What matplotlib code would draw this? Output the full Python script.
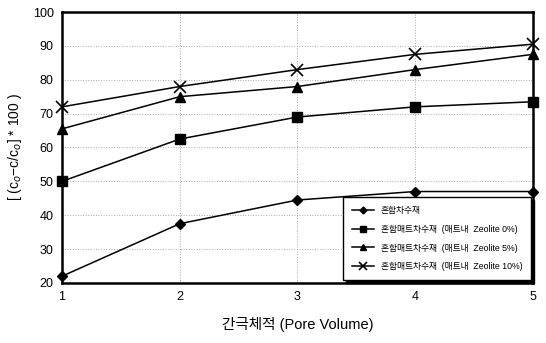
import numpy as np
import matplotlib.pyplot as plt

plt.rcParams['font.family'] = ['Liberation Sans', 'Noto Sans CJK KR', 'DejaVu Sans']
plt.rcParams['axes.unicode_minus'] = False

pore_volume = [1, 2, 3, 4, 5]
mix = [22, 37.5, 44.5, 47, 47]
mat0 = [50, 62.5, 69, 72, 73.5]
mat5 = [65.5, 75, 78, 83, 87.5]
mat10 = [72, 78, 83, 87.5, 90.5]
labels = ['혼합차수재',
          '혼합매트차수재  (매트내  Zeolite 0%)',
          '혼합매트차수재  (매트내  Zeolite 5%)',
          '혼합매트차수재  (매트내  Zeolite 10%)']

fig = plt.figure(figsize=(5.46, 3.43), dpi=100)
ax = fig.add_axes([0.1136, 0.175, 0.8625, 0.79])

ax.plot(pore_volume, mix, 'k-', marker='D', ms=5, lw=1.1, label=labels[0], clip_on=False, zorder=3)
ax.plot(pore_volume, mat0, 'k-', marker='s', ms=7, lw=1.1, label=labels[1], clip_on=False, zorder=3)
ax.plot(pore_volume, mat5, 'k-', marker='^', ms=7, lw=1.1, label=labels[2], clip_on=False, zorder=3)
ax.plot(pore_volume, mat10, 'k-', marker='x', ms=8, mew=1.2, lw=1.1, label=labels[3], clip_on=False, zorder=3)

ax.set_xlim(1, 5)
ax.set_ylim(20, 100)
ax.set_xticks(pore_volume)
ax.set_yticks(np.arange(20, 101, 10))
ax.grid(True, color='#aaaaaa', ls=':', lw=0.7)
ax.tick_params(length=0, labelsize=9, pad=6)
for s in ax.spines.values():
    s.set_linewidth(1.8)

ax.set_xlabel('간극체적 (Pore Volume)', fontsize=10.5, labelpad=10)
ax.set_ylabel(r'[ (c$_o$−c/c$_o$] * 100 )', fontsize=10, labelpad=6)

leg = ax.legend(loc='lower right', bbox_to_anchor=(1.005, -0.005), fontsize=6.3,
                frameon=True, fancybox=False, shadow={'color': 'black', 'alpha': 1},
                edgecolor='black', borderpad=1.0, labelspacing=1.1,
                handlelength=2.5, markerscale=0.7)
leg.get_frame().set_linewidth(1.0)
leg.set_zorder(5)

fig.savefig('out.png', dpi=100)
